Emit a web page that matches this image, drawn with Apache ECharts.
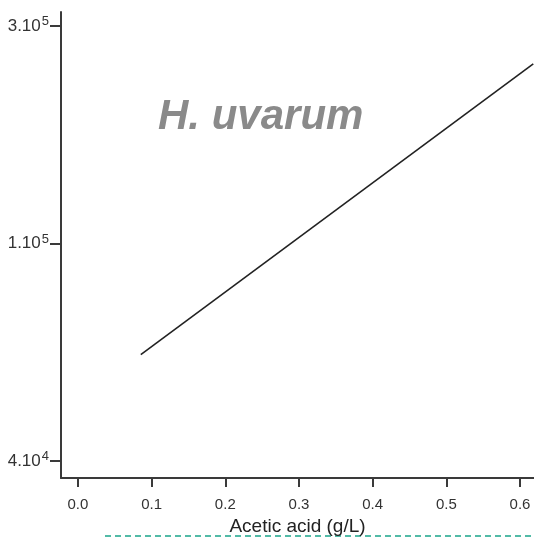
<!DOCTYPE html>
<html>
<head>
<meta charset="utf-8">
<script src="https://cdn.jsdelivr.net/npm/echarts@6/dist/echarts.min.js"></script>
<style>html,body{margin:0;padding:0;background:#fff;}#c{width:534px;height:537px;}</style>
</head>
<body>
<div id="c"></div>
<script>
// x values (g/L) of the fitted line's ends
const lineX = [0.0853, 0.618];
// y values in axis units (0 = 4·10^4 tick, 1 = 1·10^5 tick, 2 = 3·10^5 tick)
const lineY = [0.489, 1.826];
const xTicks = [0, 0.1, 0.2, 0.3, 0.4, 0.5, 0.6];
const yTicks = [0, 1, 2];
const yTickBase = ['4.10', '1.10', '3.10'];
const yTickExp = ['4', '5', '5'];
const speciesLabel = 'H. uvarum';
const xName = 'Acetic acid (g/L)';

const chart = echarts.init(document.getElementById('c'));
const axisCol = '#3a3a3a';
chart.setOption({
  animation: false,
  backgroundColor: '#ffffff',
  grid: { left: 61, right: 0, top: 12, bottom: 59, containLabel: false, outerBoundsMode: 'none' },
  xAxis: {
    type: 'value', min: -0.023, max: 0.619,
    splitLine: { show: false },
    axisLine: { show: true, onZero: false, lineStyle: { color: axisCol, width: 2 } },
    axisTick: { show: true, length: 9, customValues: xTicks, lineStyle: { color: axisCol, width: 2 } },
    axisLabel: { customValues: xTicks, margin: 19, fontSize: 15, color: '#333', fontFamily: 'Liberation Sans',
      formatter: v => v.toFixed(1) },
    name: xName, nameLocation: 'middle', nameGap: 38,
    nameTextStyle: { fontSize: 19, color: '#222', fontFamily: 'Liberation Sans' }
  },
  yAxis: {
    type: 'value', min: -0.0776, max: 2.064,
    splitLine: { show: false },
    axisLine: { show: true, onZero: false, lineStyle: { color: axisCol, width: 2 } },
    axisTick: { show: true, length: 11, customValues: yTicks, lineStyle: { color: axisCol, width: 2 } },
    axisLabel: { customValues: yTicks, margin: 12, fontFamily: 'Liberation Sans',
      formatter: v => { const i = yTicks.indexOf(Math.round(v)); return '{b|' + yTickBase[i] + '}{s|' + yTickExp[i] + '}'; },
      rich: {
        b: { fontSize: 17, color: '#333', fontFamily: 'Liberation Sans' },
        s: { fontSize: 13, color: '#333', fontFamily: 'Liberation Sans', verticalAlign: 'top', padding: [0, 0, 9, 1] }
      }
    }
  },
  series: [{
    type: 'line', data: lineX.map((x, i) => [x, lineY[i]]), symbol: 'none',
    lineStyle: { color: '#222', width: 1.6 }
  }],
  graphic: [
    { type: 'text', left: 158, top: 96, style: { text: speciesLabel, font: 'italic bold 42px "Liberation Sans"', fill: '#8a8a8a' } },
    { type: 'line', shape: { x1: 105, y1: 536, x2: 534, y2: 536 }, style: { stroke: '#1aa58a', lineWidth: 1.5, lineDash: [6, 4] } }
  ]
});
</script>
</body>
</html>
